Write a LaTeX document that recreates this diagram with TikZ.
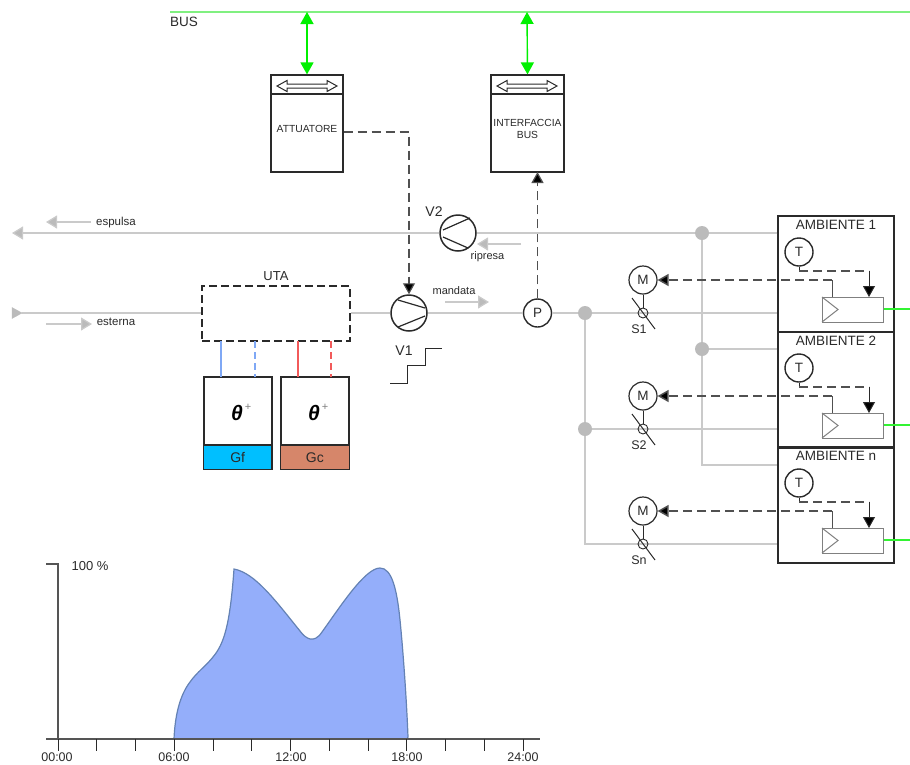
\documentclass[tikz,border=0pt]{standalone}
\usepackage{fontspec}
\setmainfont{Liberation Sans}
\usetikzlibrary{arrows.meta}
\definecolor{duct}{HTML}{CACACA}
\definecolor{ductdark}{HTML}{BBBBBB}
\definecolor{ink}{HTML}{2A2A2A}
\definecolor{dashink}{HTML}{505050}
\definecolor{busgreen}{HTML}{00F000}
\definecolor{buslight}{HTML}{80F080}
\definecolor{coldblue}{HTML}{7FA8F5}
\definecolor{hotred}{HTML}{F25A5A}
\definecolor{gfcol}{HTML}{00BFFF}
\definecolor{gccol}{HTML}{D6866A}
\definecolor{areafill}{HTML}{94AEFA}
\definecolor{areadraw}{HTML}{6482B4}
\tikzset{
  x=1pt,y=-1pt,
  txt/.style={inner sep=0pt,text=ink,font=\fontsize{#1}{#1}\selectfont,align=center},
  txt/.default=10,
  ductline/.style={draw=duct,line width=1.25pt},
  flowarrow/.style={draw=duct,line width=1.25pt,-{Triangle[length=11pt,width=13pt,fill=ductdark]}},
  ctrl/.style={draw=dashink,line width=1.2pt,dash pattern=on 9pt off 5pt},
  ctrlbold/.style={draw=dashink,line width=1.5pt,dash pattern=on 9pt off 5pt},
  ctrlhead/.style={-{Triangle[length=11pt,width=12pt,fill=black]}},
  device/.style={draw=ink,line width=1.2pt,rectangle,inner sep=0pt,minimum width=#1,minimum height=97pt},
  fan/.style={draw=ink,line width=1.5pt,circle,inner sep=0pt,minimum size=36pt,fill=white},
  instr/.style={draw=ink,line width=1.4pt,circle,inner sep=0pt,minimum size=28pt,fill=white,font=\fontsize{13.5}{13.5}\selectfont,text=ink},
  dot/.style={circle,fill=ductdark,inner sep=0pt,minimum size=14pt},
  room/.style={draw=ink,line width=1.2pt,rectangle,inner sep=0pt,minimum width=116pt,minimum height=116pt},
  unit/.style={draw=gray,line width=1pt,rectangle,inner sep=0pt,minimum width=61pt,minimum height=25pt},
  gen/.style={draw=ink,line width=1.2pt,rectangle,inner sep=0pt,minimum width=67.5pt,minimum height=92pt},
  busarrow/.style={draw=busgreen,line width=1.4pt,{Triangle[length=12pt,width=13pt,fill=busgreen]}-{Triangle[length=12pt,width=13pt,fill=busgreen]}},
  tick/.style={draw=ink,line width=1pt},
  hollow/.style={draw=ink,line width=1pt,fill=white},
}
\begin{document}
\begin{tikzpicture}
\useasboundingbox (0,0) rectangle (910,764);

% bus
\coordinate (busL) at (170,12);
\coordinate (busR) at (910,12);
\coordinate (busA) at (307,12);
\coordinate (busI) at (527,12);
\draw[buslight,line width=1.4pt] (busL) -- (busR);
\node[txt=13.5] (buslabel) at (184,22) {BUS};

% actuator and interface
\node[device=72pt] (att) at (307,123.5) {};
\node[device=73pt] (ifc) at (527.5,123.5) {};
\draw[ink,line width=1.2pt] (271,94) -- (343,94);
\draw[ink,line width=1.2pt] (491,94) -- (564,94);
\node[txt=10.3] (attlabel) at (307,129) {ATTUATORE};
\node[txt=10.3] (ifclabel) at (527.5,129) {INTERFACCIA\\[2pt]BUS};
\draw[hollow] (277,86) -- (287,80.5) -- (287,84) -- (327,84) -- (327,80.5) -- (337,86) -- (327,91.5) -- (327,88) -- (287,88) -- (287,91.5) -- cycle;
\draw[hollow] (497,86) -- (507,80.5) -- (507,84) -- (547,84) -- (547,80.5) -- (557,86) -- (547,91.5) -- (547,88) -- (507,88) -- (507,91.5) -- cycle;
\draw[busarrow] (busA) -- (att.north);
\draw[busarrow] (busI) -- (ifc.north);

% fans and pressure sensor
\node[fan] (v2) at (458,233) {};
\node[fan] (v1) at (409,313) {};
\node[instr] (p) at (537.5,313) {P};
\draw[ink,line width=1.2pt] (443,230) -- (470,218) (443,237) -- (468,248);
\draw[ink,line width=1.2pt] (398,300) -- (425,308) (398,327) -- (425,316);

% UTA
\node[draw=ink,line width=1.2pt,dash pattern=on 8pt off 4pt,rectangle,inner sep=0pt,minimum width=148pt,minimum height=55pt] (uta) at (276,313.5) {};
\node[txt=13] (utalabel) at (276,276) {UTA};

% ducts
\coordinate (exhEnd) at (12,233);
\coordinate (extEnd) at (22,313);
\coordinate (j1) at (702,233);
\coordinate (j2) at (702,349);
\coordinate (j3) at (585,313);
\coordinate (j4) at (585,429);
\draw[flowarrow] (v2.west) -- (exhEnd);
\draw[ductline] (extEnd) -- (uta.west |- extEnd);
\draw[fill=ductdark,draw=ductdark] (12,307.5) -- (22,313) -- (12,318.5) -- cycle;
\draw[ductline] (uta.east |- v1) -- (v1.west);
\draw[ductline] (v1.east) -- (p.west);

% generators
\node[gen] (gf) at (237.7,423) {};
\node[gen] (gc) at (314.8,423) {};
\fill[gfcol] (204,445) rectangle (271.5,469);
\fill[gccol] (281,445) rectangle (348.5,469);
\draw[ink,line width=1.2pt] (gf.north west) rectangle (gf.south east) (204,445) -- (271.5,445);
\draw[ink,line width=1.2pt] (gc.north west) rectangle (gc.south east) (281,445) -- (348.5,445);
\node[txt=14] (gflabel) at (237.7,457.5) {Gf};
\node[txt=14] (gclabel) at (314.8,457.5) {Gc};
\node[txt=21,font=\fontsize{21}{21}\selectfont\bfseries\itshape,text=black] (th1) at (237,413) {θ};
\node[txt=21,font=\fontsize{21}{21}\selectfont\bfseries\itshape,text=black] (th2) at (314,413) {θ};
\node[txt=11,text=gray] (pl1) at (248,407) {+};
\node[txt=11,text=gray] (pl2) at (325,407) {+};
\draw[coldblue,line width=2pt] (221,341) -- (221,377);
\draw[coldblue,line width=2pt,dash pattern=on 7pt off 4pt] (254.6,341) -- (254.6,377);
\draw[hotred,line width=1.3pt] (298,341) -- (298,377);
\draw[hotred,line width=1.3pt,dash pattern=on 7pt off 4pt] (331,341) -- (331,377);

% control to fan and from pressure sensor
\coordinate (attout) at (att.east |- 0,132);
\coordinate (attbend) at (409,132);
\draw[ctrl,ctrlhead] (attout) -- (attbend) -- (v1.north);
\coordinate (ifcin) at (537.5,172);
\draw[ctrl,ctrlhead] (p.north) -- (ifcin);

% stepped speed symbol
\coordinate (st0) at (390,383);
\coordinate (st1) at (442,348);
\draw[ink,line width=1pt] (st0) -- (407,383) -- (407,365) -- (425,365) -- (425,348) -- (st1);

% air direction labels
\coordinate (aE1) at (91,222); \coordinate (aE2) at (46,222);
\coordinate (aS1) at (46,324); \coordinate (aS2) at (92,324);
\coordinate (aM1) at (445,302); \coordinate (aM2) at (489,302);
\coordinate (aR1) at (521,244); \coordinate (aR2) at (477,244);
\draw[flowarrow] (aE1) -- (aE2);
\draw[flowarrow] (aS1) -- (aS2);
\draw[flowarrow] (aM1) -- (aM2);
\draw[flowarrow] (aR1) -- (aR2);
\node[txt=11.5] (espulsa) at (116,223) {espulsa};
\node[txt=11.5] (esterna) at (116,322) {esterna};
\node[txt=11] (mandata) at (454,291) {mandata};
\node[txt=11] (ripresa) at (487.5,257) {ripresa};
\node[txt=14] (v2label) at (434,212) {V2};
\node[txt=14] (v1label) at (404,351) {V1};

% rooms
\node[room] (r1) at (836,274) {};
\node[room] (r2) at (836,390) {};
\node[room] (r3) at (836,505) {};

% return branches
\draw[ductline] (r1.west |- j1) -- (v2.east);
\draw[ductline] (r2.west |- j2) -- (j2);
\draw[ductline] (j1) -- (702,465) -- (r3.west |- 0,465);
% supply branches
\draw[ductline] (p.east) -- (r1.west |- p);
\draw[ductline] (j3) -- (585,544) -- (r3.west |- 0,544);
\draw[ductline] (j4) -- (r2.west |- j4);
\node[dot] (dot1) at (j1) {};
\node[dot] (dot2) at (j2) {};
\node[dot] (dot3) at (j3) {};
\node[dot] (dot4) at (j4) {};

\foreach \n/\dy/\s/\ttl in {1/0/S1/AMBIENTE 1,2/116/S2/AMBIENTE 2,3/231/Sn/AMBIENTE n}{
  \node[txt=13.5] (title\n) at (836,{225+\dy}) {\ttl};
  \node[instr] (t\n) at (799,{252+\dy}) {T};
  \node[instr,line width=1.2pt] (m\n) at (643,{280+\dy}) {M};
  \node[unit,fill=white] (u\n) at (852.5,{309.5+\dy}) {};
  \draw[gray,line width=1pt] (822,{297+\dy}) -- (838,{309.5+\dy}) -- (822,{322+\dy});
  \coordinate (tc\n) at (799,{271+\dy});
  \coordinate (tb\n) at (869,{271+\dy});
  \coordinate (ua\n) at (869,{297+\dy});
  \coordinate (ub\n) at (832,{297+\dy});
  \coordinate (uc\n) at (832,{280+\dy});
  \draw[ink,line width=1pt] (t\n.south) -- (tc\n);
  \draw[ctrl] (tc\n) -- (tb\n);
  \draw[ink,line width=1pt,ctrlhead] (tb\n) -- (ua\n);
  \draw[dashink,line width=1pt] (ub\n) -- (uc\n);
  \draw[ctrlbold,ctrlhead] (uc\n) -- (m\n.east);
  \coordinate (gr\n) at (910,{309+\dy});
  \draw[busgreen!80!white,line width=1.3pt] (u\n.east |- gr\n) -- (gr\n);
  \node[circle,draw=ink,line width=.9pt,inner sep=0pt,minimum size=10pt] (d\n) at (643,{313+\dy}) {};
  \draw[ink,line width=1pt] (m\n.south) -- (d\n.north);
  \draw[ink,line width=1pt] (632,{298+\dy}) -- (655,{329+\dy});
  \node[txt=12.5] (s\n) at (639,{329+\dy}) {\s};
}

% chart
\coordinate (yTop) at (58,564);
\coordinate (yTick) at (46,564);
\coordinate (orig) at (58,739);
\coordinate (xL) at (46,739);
\coordinate (xR) at (540,739);
\draw[fill=areafill,draw=areadraw,line width=1.2pt]
  (174,739) .. controls (175,715) and (180,695) .. (190,682)
  .. controls (197,672) and (206,666) .. (213,657)
  .. controls (224,644) and (230,625) .. (234,569)
  .. controls (255,573) and (275,600) .. (300,631)
  .. controls (306,639) and (314,644) .. (322,632)
  .. controls (340,607) and (365,568) .. (380,568)
  .. controls (392,568) and (397,590) .. (400,620)
  .. controls (404,660) and (407,710) .. (408,737)
  -- (407,739) -- cycle;
\draw[ink!80,line width=1.3pt] (yTick) -- (yTop) -- (orig);
\draw[ink!80,line width=1.1pt] (xL) -- (xR);
\foreach \k in {0,...,12}{
  \draw[tick] ({58+\k*38.75},739) -- ({58+\k*38.75},751);
}
\foreach \lab/\px in {00:00/57,06:00/174,12:00/291,18:00/407,24:00/523}{
  \node[txt=12.5] (tl\px) at (\px,757.5) {\lab};
}
\node[txt=13] (pct) at (90,566) {100 \%};
\end{tikzpicture}
\end{document}
